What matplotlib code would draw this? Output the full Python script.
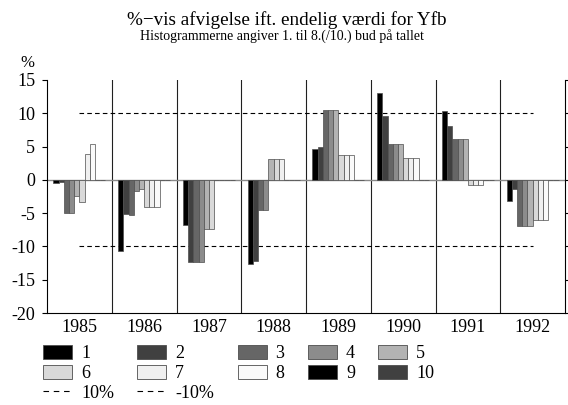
import numpy as np
import matplotlib
matplotlib.use("Agg")
import matplotlib.pyplot as plt
from matplotlib.patches import Patch
from matplotlib.lines import Line2D

plt.rcParams['font.family'] = ['Liberation Serif', 'DejaVu Serif']
plt.rcParams['axes.unicode_minus'] = False
plt.rcParams['lines.scale_dashes'] = False

years = ['1985', '1986', '1987', '1988', '1989', '1990', '1991', '1992']
bid_labels = ['1', '2', '3', '4', '5', '6', '7', '8', '9', '10']
bid1 = [-0.5, -10.75, -6.8, -12.6, 4.7, 13.05, 10.4, -3.2]
bid2 = [-0.3, -5.15, -12.35, -12.2, 4.9, 9.65, 8.05, -1.35]
bid3 = [-5.0, -5.3, -12.35, -4.6, 10.55, 5.4, 6.15, -6.9]
bid4 = [-5.0, -1.65, -12.35, -4.6, 10.55, 5.4, 6.15, -6.9]
bid5 = [-2.45, -1.4, -7.45, 3.1, 10.55, 5.4, 6.15, -6.9]
bid6 = [-3.3, -4.05, -7.45, 3.1, 3.75, 3.25, -0.7, -6.1]
bid7 = [3.9, -4.05, 0.0, 3.1, 3.75, 3.25, -0.7, -6.1]
bid8 = [5.35, -4.05, 0.0, 0.0, 3.75, 3.25, -0.7, -6.1]
bid9 = [0, 0, 0, 0, 0, 0, 0, 0]
bid10 = [0, 0, 0, 0, 0, 0, 0, 0]
series = [bid1, bid2, bid3, bid4, bid5, bid6, bid7, bid8, bid9, bid10]
ref_levels = [10, -10]
ref_labels = ['10%', '-10%']

colors = ['#000000', '#404040', '#666666', '#8c8c8c', '#b3b3b3',
          '#d9d9d9', '#f0f0f0', '#fafafa', '#000000', '#404040']

fig = plt.figure(figsize=(5.68, 4.05), dpi=100)
ax = fig.add_axes([47/568, 1-313/405, (565-47)/568, (313-80)/405])

n = len(years)
x0 = np.arange(n)
w = 0.08
for k, vals in enumerate(series):
    ax.bar(x0 + 0.1 + k*w, vals, width=w, align='edge', color=colors[k],
           edgecolor='#4d4d4d', linewidth=0.5, zorder=3)

ax.axhline(0, color='#8a8a8a', lw=1.0, zorder=2)
for lv in ref_levels:
    ax.hlines(lv, 0.5, n-0.5, colors='black', lw=0.8, linestyles=(0, (3.3, 2.3)), zorder=2)
for i in range(1, n):
    ax.axvline(i, color='#202020', lw=0.8, zorder=1)

ax.set_xlim(0, n)
ax.set_ylim(-20, 15)
ax.set_yticks(np.arange(-20, 16, 5))
ax.set_xticks(x0 + 0.5)
ax.set_xticklabels(years)
ax.tick_params(axis='x', length=0, pad=4, labelsize=13)
ax.tick_params(axis='y', direction='out', length=3.6, width=0.8, right=True,
               labelright=False, labelsize=13, pad=5)
ax.spines['top'].set_visible(False)
for s in ['left', 'right', 'bottom']:
    ax.spines[s].set_linewidth(0.8)

fig.text(287/568, 1-20/405, '%\u2212vis afvigelse ift. endelig værdi for Yfb',
         ha='center', va='center', fontsize=13.8)
fig.text(282/568, 1-36/405, 'Histogrammerne angiver 1. til 8.(/10.) bud på tallet',
         ha='center', va='center', fontsize=10)
fig.text(27/568, 1-63/405, '%', ha='center', va='center', fontsize=12)

patches = [Patch(facecolor=colors[k], edgecolor='#4d4d4d', linewidth=0.6, label=bid_labels[k])
           for k in range(10)]
lines = [Line2D([], [], color='black', lw=0.8, linestyle=(0, (4.0, 3.4)), label=l)
         for l in ref_labels]
order = [patches[0], patches[5], lines[0],
         patches[1], patches[6], lines[1],
         patches[2], patches[7],
         patches[3], patches[8],
         patches[4], patches[9]]
fig.legend(handles=order, labels=[h.get_label() for h in order], ncol=5,
           loc='upper left', bbox_to_anchor=(43/568, 1-345/405), frameon=False,
           fontsize=13, handlelength=1.6, handleheight=0.85, handletextpad=0.5,
           columnspacing=1.3, labelspacing=0.12, borderpad=0, borderaxespad=0)

fig.savefig('out.png', dpi=100)
